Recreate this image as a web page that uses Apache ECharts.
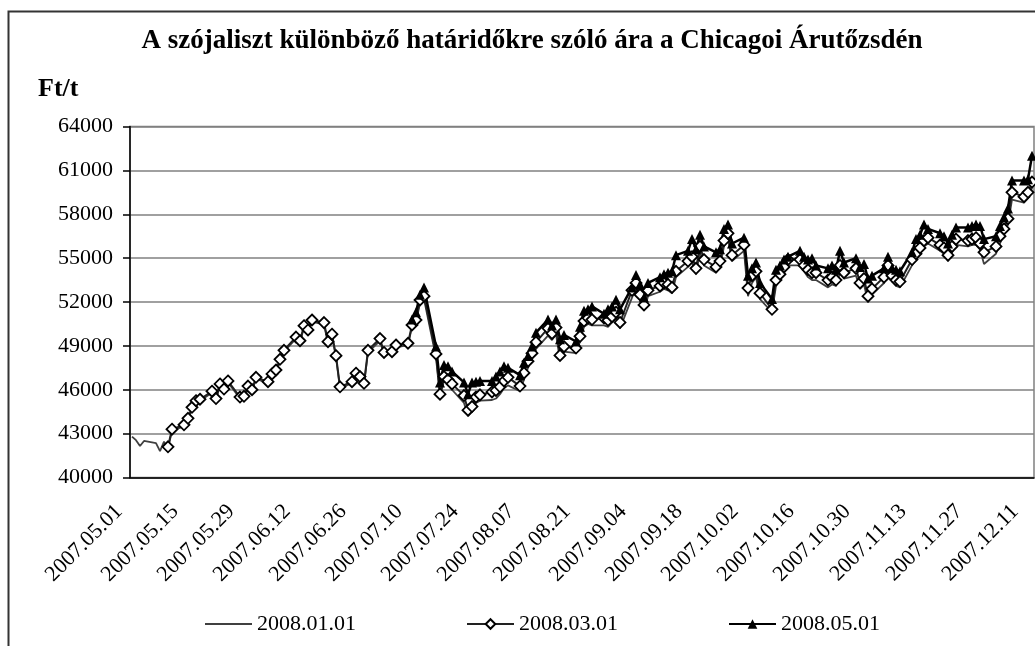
<!DOCTYPE html>
<html>
<head>
<meta charset="utf-8">
<script src="https://cdn.jsdelivr.net/npm/echarts@6/dist/echarts.min.js"></script>
<style>
  html, body { margin: 0; padding: 0; background: #fff; }
  #chart { width: 1035px; height: 646px; }
</style>
</head>
<body>
<div id="chart"></div>
<script>
// series names (contract months)
var seriesNames = ['2008.01.01', '2008.03.01', '2008.05.01'];

// first and last calendar day on the axis, and the skipped trading day
var axisStart = [2007, 4, 1];
var axisDays = 226;
var holidays = ['2007.07.04'];

// 2008.01.01 contract, one value per trading day (May .. Dec)
var jan08 = [
  42800, 42550, 42150, 42500, 42350, 41800, 42450, 42000, 43200, 43500, 43950, 44700, 45150, 45250, 45800, 45300, 46300, 45950, 46500, 45400, 45450, 46150, 45900,
  46750, 46450, 46950, 47250, 47950, 48600, 49500, 49250, 50250, 49950, 50650, 50450, 49150, 49650, 48200, 46100, 46450, 47000, 46800, 46350, 48550,
  49350, 48400, 48450, 48900, 49050, 50300, 50600, 51950, 52200, 48200, 45500, 46600, 46400, 46000, 45100, 44200, 44500, 45100, 45250, 45300, 45400,
  45700, 46100, 46300, 45900, 46700, 47500, 48100, 48800, 49700, 49400, 49800, 48000, 48600, 48500, 49300, 50300, 50500, 50400, 50400, 50300, 50600, 50900, 50200,
  52300, 52900, 52100, 51400, 52400, 52700, 52900, 52800, 52600, 53700, 54400, 54700, 53900, 55400, 54500, 54000, 54400, 55800, 56300, 54800,
  55500, 52400, 53300, 53700, 52200, 51300, 53100, 53500, 54000, 54500, 54500, 54100, 53700, 53500, 53500, 53000, 53200, 53100, 54000, 53600, 53800, 52900, 53200,
  52000, 52500, 53300, 54100, 53400, 53100, 53000, 54500, 54900, 55300, 55800, 56000, 55500, 55300, 54800, 55400, 55900, 55800, 55900, 55900, 55600, 54600,
  55300, 56000, 56600, 57300, 59000, 58800, 59100, 59800
];

// 2008.03.01 contract
var mar08 = [
  null, null, null, null, null, null, null, 42100, 43300, 43600, 44050, 44800, 45250, 45350, 45900, 45400, 46400, 46050, 46600, 45500, 45550, 46250, 46000,
  46850, 46550, 47080, 47350, 48080, 48700, 49600, 49350, 50380, 50090, 50770, 50590, 49290, 49800, 48330, 46200, 46550, 47130, 46900, 46440, 48700,
  49500, 48550, 48600, 49060, 49180, 50430, 50770, 52140, 52400, 48450, 45700, 46900, 46700, 46400, 45600, 44600, 44850, 45500, 45650, 45850, 45950,
  46200, 46600, 46850, 46250, 47150, 47950, 48500, 49250, 50200, 49850, 50250, 48350, 48950, 48850, 49650, 50700, 50900, 50800, 50900, 50750, 51000, 51300, 50600,
  52800, 53300, 52500, 51800, 52800, 53100, 53300, 53200, 53000, 54100, 54800, 55100, 54300, 55800, 54900, 54400, 54800, 56200, 56700, 55200,
  55900, 52950, 53800, 54100, 52600, 51500, 53500, 53900, 54400, 54900, 54900, 54500, 54200, 54000, 54000, 53500, 53700, 53500, 54500, 54000, 54300, 53300, 53600,
  52400, 52900, 53700, 54500, 53800, 53500, 53400, 54900, 55300, 55700, 56200, 56400, 55900, 55700, 55200, 55800, 56300, 56200, 56300, 56400, 56000, 55400,
  55800, 56500, 57000, 57700, 59500, 59200, 59500, 60200
];

// 2008.05.01 contract
var may08 = [
  null, null, null, null, null, null, null, null, null, null, null, null, null, null, null, null, null, null, null, null, null, null, null,
  null, null, null, null, null, null, null, null, null, null, null, null, null, null, null, null, null, null, null, null, null,
  null, null, null, null, null, 50800, 51300, 52500, 53000, 48950, 46500, 47700, 47600, 47250, 46500, 45700, 46500, 46550, 46600, 46600, 46900,
  47250, 47600, 47500, 47000, 47850, 48300, 48950, 49900, 50800, 50400, 50800, 49450, 49750, 49300, 50300, 51400, 51500, 51700, 51200, 51500, 51700, 52150, 51500,
  53000, 53850, 53200, 52300, 53300, 53700, 53900, 54000, 54100, 55200, 55500, 56300, 55600, 56600, 55800, 55400, 55600, 57000, 57300, 56000,
  56400, 53800, 54300, 54700, 53300, 52200, 54200, 54500, 54900, 55100, 55500, 55100, 54900, 55000, 54500, 54300, 54500, 54200, 55500, 54700, 55000, 54400, 54600,
  53600, 53800, 54300, 55100, 54300, 54200, 54100, 55400, 56300, 56600, 57300, 57000, 56700, 56500, 56000, 56600, 57100, 57100, 57200, 57300, 57200, 56300,
  56500, 57200, 57800, 58400, 60300, 60300, 60400, 62000
];

// y axis
var yMin = 40000, yMax = 64000, yStep = 3000;

function pad(n) { return (n < 10 ? '0' : '') + n; }
function fmt(d) { return d.getUTCFullYear() + '.' + pad(d.getUTCMonth() + 1) + '.' + pad(d.getUTCDate()); }

var allDays = [];
var tradeDays = [];
var t0 = Date.UTC(axisStart[0], axisStart[1], axisStart[2]);
for (var i = 0; i < axisDays; i++) {
  var d = new Date(t0 + i * 86400000);
  var s = fmt(d);
  allDays.push(s);
  var wd = d.getUTCDay();
  if (wd !== 0 && wd !== 6 && holidays.indexOf(s) < 0) tradeDays.push(s);
}
[jan08, mar08, may08].forEach(function (arr, k) {
  if (arr.length !== tradeDays.length) throw new Error(seriesNames[k] + ': ' + arr.length + ' vs ' + tradeDays.length);
});

function pairs(vals) {
  var out = [];
  vals.forEach(function (v, i) {
    if (v != null) out.push([allDays.indexOf(tradeDays[i]), v]);
  });
  return out;
}

var serif = '"Liberation Serif", "Times New Roman", serif';
var myChart = echarts.init(document.getElementById('chart'));
var option = {
  animation: false,
  backgroundColor: '#fff',
  graphic: [
    { type: 'rect', silent: true, shape: { x: 8.5, y: 11.5, width: 1200, height: 800 },
      style: { fill: 'none', stroke: '#333', lineWidth: 2 } },
    { type: 'text', x: 532, y: 41,
      style: { text: 'A szójaliszt különböző határidőkre szóló ára a Chicagoi Árutőzsdén',
               font: 'bold 27px ' + serif, fill: '#000', align: 'center', verticalAlign: 'middle' } },
    { type: 'text', x: 38, y: 89,
      style: { text: 'Ft/t', font: 'bold 26px ' + serif, fill: '#000', align: 'left', verticalAlign: 'middle' } }
  ],
  grid: {
    left: 130, right: 1, top: 126.5, bottom: 168.5,
    show: true, borderColor: '#808080', borderWidth: 1.5
  },
  legend: {
    left: 199, top: 608,
    itemWidth: 47, itemHeight: 12, itemGap: 110,
    textStyle: { fontFamily: serif, fontSize: 22, color: '#000' },
    data: [
      { name: seriesNames[0], itemStyle: { color: 'transparent', borderWidth: 0, opacity: 0 } },
      seriesNames[1],
      seriesNames[2]
    ]
  },
  xAxis: {
    type: 'category',
    data: allDays,
    boundaryGap: true,
    axisLine: { lineStyle: { color: '#000', width: 1.5 } },
    axisTick: { interval: 13, length: 7, lineStyle: { color: '#000', width: 1.5 } },
    axisLabel: { interval: 13, rotate: 45, margin: 18, padding: [0, 18, 0, 0],
                 color: '#000', fontFamily: serif, fontSize: 22 },
    splitLine: { show: false }
  },
  yAxis: {
    type: 'value',
    min: yMin, max: yMax, interval: yStep,
    axisLine: { show: true, lineStyle: { color: '#000', width: 1.5 } },
    axisTick: { show: true, length: 7, lineStyle: { color: '#000', width: 1.5 } },
    axisLabel: { margin: 17, color: '#000', fontFamily: serif, fontSize: 22,
                 formatter: function (v) { return String(v); } },
    splitLine: { lineStyle: { color: '#808080', width: 1.5 } }
  },
  series: [
    {
      name: seriesNames[0], type: 'line', data: pairs(jan08),
      symbol: 'none',
      lineStyle: { color: '#404040', width: 1.8 },
      itemStyle: { color: '#404040' }
    },
    {
      name: seriesNames[1], type: 'line', data: pairs(mar08),
      symbol: 'diamond', symbolSize: 11, showAllSymbol: true,
      lineStyle: { color: '#222', width: 2 },
      itemStyle: { color: '#fff', borderColor: '#000', borderWidth: 1.8 }
    },
    {
      name: seriesNames[2], type: 'line', data: pairs(may08),
      symbol: 'triangle', symbolSize: 10, showAllSymbol: true,
      lineStyle: { color: '#000', width: 2.5 },
      itemStyle: { color: '#000' }
    }
  ]
};
myChart.setOption(option);
</script>
</body>
</html>
